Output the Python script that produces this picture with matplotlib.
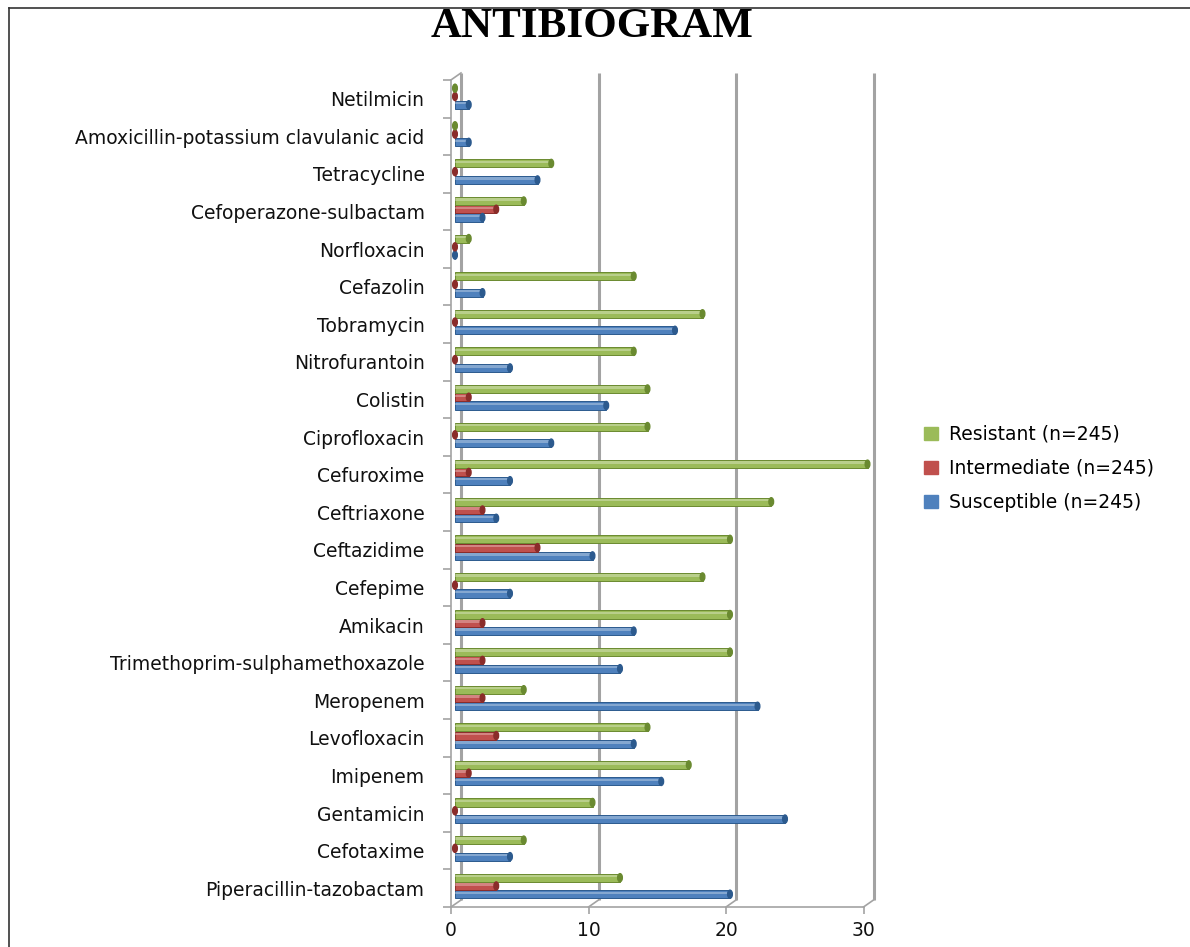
import numpy as np
import matplotlib.pyplot as plt
from matplotlib.patches import Ellipse, Patch
from matplotlib.lines import Line2D
from matplotlib.transforms import ScaledTranslation

# antibiotics, listed from the bottom of the chart to the top
drugs = ["Piperacillin-tazobactam", "Cefotaxime", "Gentamicin", "Imipenem",
         "Levofloxacin", "Meropenem", "Trimethoprim-sulphamethoxazole", "Amikacin",
         "Cefepime", "Ceftazidime", "Ceftriaxone", "Cefuroxime", "Ciprofloxacin",
         "Colistin", "Nitrofurantoin", "Tobramycin", "Cefazolin", "Norfloxacin",
         "Cefoperazone-sulbactam", "Tetracycline",
         "Amoxicillin-potassium clavulanic acid", "Netilmicin"]

susceptible  = [20, 4, 24, 15, 13, 22, 12, 13, 4, 10, 3, 4, 7, 11, 4, 16, 2, 0, 2, 6, 1, 1]
intermediate = [3, 0, 0, 1, 3, 2, 2, 2, 0, 6, 2, 1, 0, 1, 0, 0, 0, 0, 3, 0, 0, 0]
resistant    = [12, 5, 10, 17, 14, 5, 20, 20, 18, 20, 23, 30, 14, 14, 13, 18, 13, 1, 5, 7, 0, 0]

xticks = [0, 10, 20, 30]

fig = plt.figure(figsize=(11.9, 9.47), dpi=100)
ax = fig.add_axes([440/1190, 40/947, 445/1190, 847/947])
ax.set_xlim(-11/13.75, 434/13.75)
ax.set_ylim(-0.5, 22.03)

y = np.arange(len(drugs))
grid_c = '#a3a3a3'

# bars sit a little behind the front plane
shift = ax.transData + ScaledTranslation(4/100, 0, fig.dpi_scale_trans)
bar_h = 0.215
series = [
    (susceptible,  "Susceptible (n=245)",  '#4F81BD', '#2C5A8E', -0.16),
    (intermediate, "Intermediate (n=245)", '#C0504D', '#8A2C2A', 0.06),
    (resistant,    "Resistant (n=245)",    '#9BBB59', '#6A8A30', 0.28),
]
for vals, label, color, dark, off in series:
    pos = y + off
    ax.barh(pos, vals, height=bar_h, color=color, edgecolor=dark, linewidth=0.7,
            transform=shift, zorder=3)
    # light stripe along the top for the cylinder look
    ax.barh(pos + bar_h * 0.18, vals, height=bar_h * 0.3, color='white', alpha=0.3,
            linewidth=0, transform=shift, zorder=4)
    for v, p in zip(vals, pos):
        ax.add_patch(Ellipse((v, p), 0.34, bar_h, facecolor=dark, edgecolor=dark,
                             transform=shift, zorder=5))

# back wall gridlines and floor edges
dx = 10/13.75
dy = 7/37.6
for gx in xticks:
    ax.plot([gx + dx, gx + dx], [-0.5 + dy, 21.5 + dy], color=grid_c, lw=2.2,
            zorder=1, clip_on=False, solid_capstyle='butt')
    ax.plot([gx, gx + dx], [-0.5, -0.5 + dy], color=grid_c, lw=1.2, zorder=1, clip_on=False)
ax.plot([0, dx], [21.5, 21.5 + dy], color=grid_c, lw=1.2, zorder=1, clip_on=False)

for side in ['top', 'right']:
    ax.spines[side].set_visible(False)
ax.spines['left'].set_position(('data', 0))
ax.spines['left'].set_bounds(-0.5, 21.5)
ax.spines['bottom'].set_bounds(0, 30)
for side in ['left', 'bottom']:
    ax.spines[side].set_color(grid_c)
    ax.spines[side].set_linewidth(1.2)

ax.set_yticks(y)
ax.set_yticklabels(drugs)
ax.set_yticks(np.arange(-0.5, len(drugs), 1), minor=True)
ax.tick_params(axis='y', which='major', length=0, pad=19, labelsize=13.5, labelcolor='#111111')
ax.tick_params(axis='y', which='minor', length=6, width=1.2, color=grid_c)
ax.set_xticks(xticks)
ax.tick_params(axis='x', length=5, width=1.2, color=grid_c, pad=5, labelsize=13.5,
               labelcolor='#111111')

fig.text(592/1190, 1 - 27/947, 'ANTIBIOGRAM', ha='center', va='center',
         family='Liberation Serif', fontweight='bold', fontsize=31)

handles = [Patch(color=c, label=lab) for _, lab, c, _, _ in series[::-1]]
fig.legend(handles=handles, loc='upper left', bbox_to_anchor=(924/1190, 1 - 425/947),
           frameon=False, fontsize=13.5, handlelength=0.75, handleheight=0.75,
           handletextpad=0.6, labelspacing=0.8, borderpad=0, borderaxespad=0)

# chart border
fig.add_artist(Line2D([9/1190, 9/1190], [0, 1 - 8/947], transform=fig.transFigure,
                      color='#333333', lw=1.2))
fig.add_artist(Line2D([9/1190, 1], [1 - 8/947, 1 - 8/947], transform=fig.transFigure,
                      color='#333333', lw=1.2))

fig.savefig('out.png', dpi=100)
